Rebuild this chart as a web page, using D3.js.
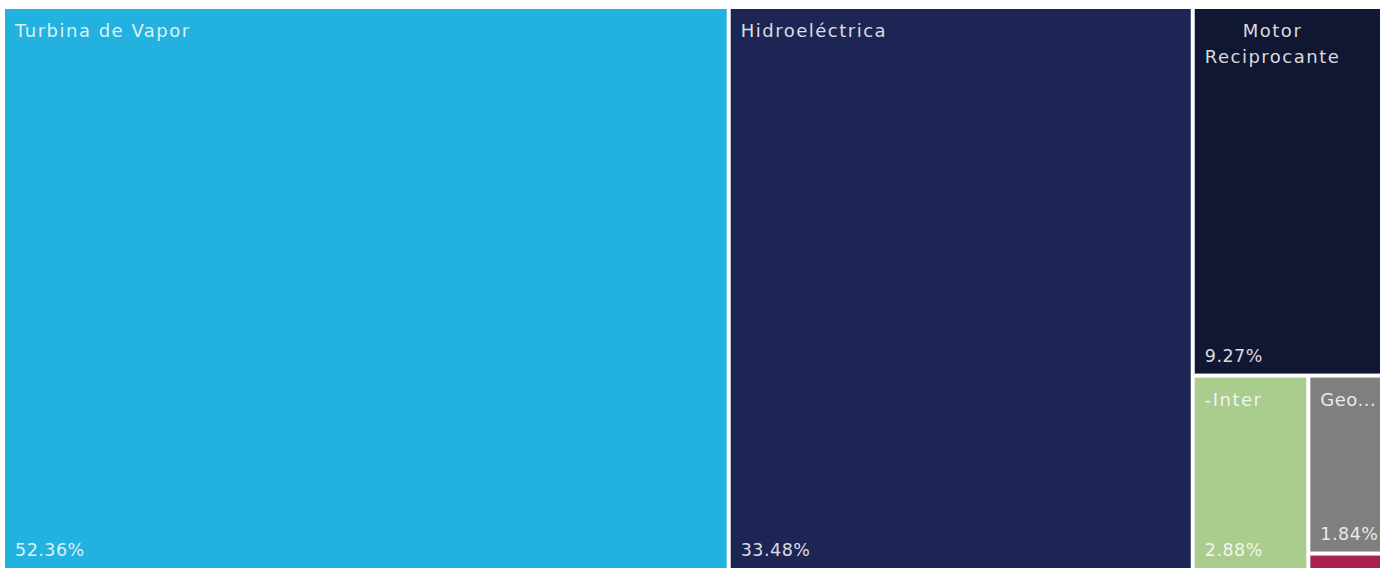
<!DOCTYPE html>
<html>
<head>
<meta charset="utf-8">
<script src="https://cdn.jsdelivr.net/npm/d3@7"></script>
<style>
  html, body { margin: 0; padding: 0; background: #ffffff; overflow: hidden; }
  svg { display: block; }
</style>
</head>
<body>
<svg id="chart" width="1380" height="571"></svg>
<script>
// Data
const categories = ["Turbina de Vapor", "Hidroeléctrica", "Motor Reciprocante", "Interconexión", "Geotérmica", "Solar"];
const displayLabels = ["Turbina de Vapor", "Hidroeléctrica", "Motor Reciprocante", "-Inter", "Geo...", ""];
const shares = [52.36, 33.48, 9.27, 2.88, 1.84, 0.17];
const valueLabels = ["52.36%", "33.48%", "9.27%", "2.88%", "1.84%", ""];
const colors = ["#23b1e0", "#1c2553", "#111732", "#aacc8c", "#7f7f7f", "#a8204e"];

const W = 1380, H = 571;
const margin = { left: 5, top: 9, right: -7, bottom: 3 };
const svg = d3.select("#chart");

const rootData = {
  name: "root",
  children: categories.map((c, i) => ({ name: c, label: displayLabels[i], value: shares[i], vlabel: valueLabels[i], color: colors[i] }))
};
const root = d3.hierarchy(rootData).sum(d => d.value || 0).sort((a, b) => b.value - a.value);

d3.treemap()
  .tile(d3.treemapSquarify.ratio(1))
  .size([W - margin.left - margin.right, H - margin.top - margin.bottom])
  .paddingInner(4)
  (root);

const g = svg.append("g").attr("transform", `translate(${margin.left},${margin.top})`);
const font = "'DejaVu Sans', sans-serif";
const fs = 18, ls = 1.5, lsTight = 0.5, fsNum = 17.5, lsNum = 0.5;
const textFill = "#ffffff", textOpacity = 0.85;
const padX = 10;

const cell = g.selectAll("g.cell").data(root.leaves()).join("g")
  .attr("class", "cell")
  .attr("transform", d => `translate(${d.x0},${d.y0})`);

cell.append("rect")
  .attr("width", d => d.x1 - d.x0)
  .attr("height", d => d.y1 - d.y0)
  .attr("fill", d => d.data.color);

function measure(sel, s, size, spacing) {
  const tt = sel.append("text").attr("font-family", font).attr("font-size", size)
    .attr("letter-spacing", spacing).text(s);
  const w = tt.node().getComputedTextLength(); tt.remove(); return w;
}

cell.each(function (d) {
  const sel = d3.select(this);
  // visible width (the chart is clipped at the right page edge)
  const visRight = Math.min(d.x1, W - margin.left - 2);
  const w = visRight - d.x0, h = d.y1 - d.y0;
  if (h < 30) return;
  const lab = d.data.label;
  const words = lab.split(" ");
  const fits = measure(sel, lab, fs, ls) <= w - 2 * padX;
  const t = sel.append("text")
    .attr("font-family", font).attr("font-size", fs)
    .attr("letter-spacing", ls)
    .attr("fill", textFill).attr("fill-opacity", textOpacity);
  if (fits || words.length < 2) {
    if (!fits) t.attr("letter-spacing", lsTight);
    t.attr("x", padX).attr("y", 22).attr("dy", "0.35em").text(lab);
  } else {
    const maxW = d3.max(words, wd => measure(sel, wd, fs, ls));
    const cx = padX + maxW / 2;
    t.attr("text-anchor", "middle");
    words.forEach((l, i) => {
      t.append("tspan").attr("x", cx).attr("y", 22 + i * 26).attr("dy", "0.35em").text(l);
    });
  }
  sel.append("text")
    .attr("x", padX).attr("y", h - 18)
    .attr("dy", "0.35em")
    .attr("font-family", font).attr("font-size", fsNum)
    .attr("letter-spacing", lsNum)
    .attr("fill", textFill).attr("fill-opacity", textOpacity)
    .text(d.data.vlabel);
});
</script>
</body>
</html>
